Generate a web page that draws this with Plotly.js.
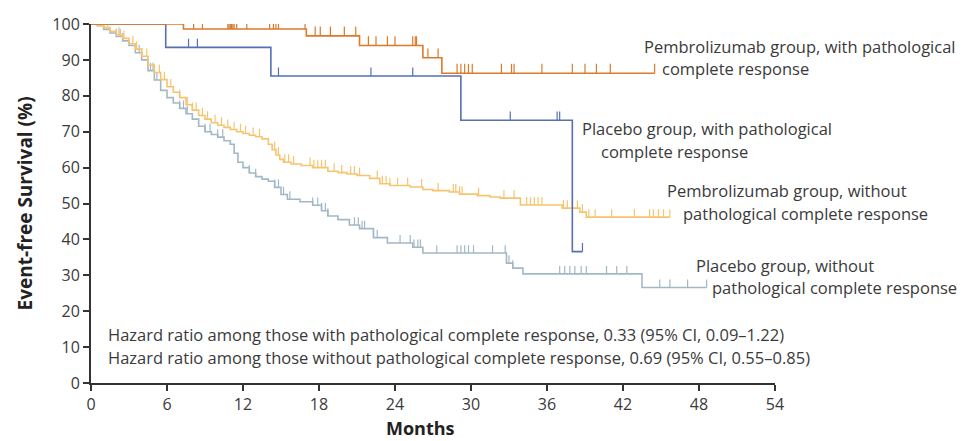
<!DOCTYPE html>
<html>
<head>
<meta charset="utf-8">
<script src="https://cdn.plot.ly/plotly-3.0.1.min.js"></script>
<style>
html,body{margin:0;padding:0;background:#fff;}
#chart{width:961px;height:441px;}
</style>
</head>
<body>
<div id="chart"></div>
<script>
// ---- Data (months, event-free survival %) ----
var pembroPcrTime = [0, 7.3, 17.0, 21.2, 26.2, 27.7, 44.5];
var pembroPcrSurv = [100, 98.6, 96.7, 94.0, 90.6, 86.3, 86.3];
var pembroPcrCensor = [4.8, 6.5, 6.9, 7.0, 7.2, 8.1, 8.8, 10.8, 10.9, 11.0, 11.1, 11.2, 11.3, 11.5, 12.3, 14.1, 14.4, 14.6, 14.8, 16.9, 17.7, 18.1, 18.9, 20.0, 20.9, 21.9, 22.5, 23.4, 24.0, 25.4, 25.6, 25.7, 26.6, 27.4, 28.9, 29.2, 29.5, 29.8, 30.1, 32.4, 33.2, 33.4, 35.6, 38.0, 39.0, 39.9, 41.0, 44.5];

var placeboPcrTime = [0, 5.9, 14.2, 29.2, 38.0, 38.8];
var placeboPcrSurv = [100, 93.5, 85.5, 73.2, 36.6, 36.6];
var placeboPcrCensor = [7.7, 8.4, 14.8, 22.1, 25.4, 33.1, 36.8, 37.0, 38.8];

var pembroNoTime = [0, 0.5, 1.0, 1.5, 2.0, 2.5, 3.0, 3.5, 4.0, 4.5, 5.0, 5.5, 6.0, 6.5, 7.0, 7.5, 8.0, 8.5, 9.0, 9.5, 10.0, 10.5, 11.0, 11.5, 12.0, 12.5, 13.0, 13.5, 14.0, 14.3, 14.6, 14.9, 15.2, 15.8, 16.6, 17.5, 18.7, 19.5, 20.2, 21.0, 22.0, 22.8, 23.6, 25.2, 26.2, 27.0, 28.3, 29.1, 30.5, 31.5, 32.3, 33.9, 37.2, 38.6, 39.1, 45.7];
var pembroNoSurv = [100, 99.6, 99.0, 98.0, 97.0, 96.0, 94.5, 93.0, 91.0, 88.5, 86.5, 84.5, 82.5, 81.0, 79.5, 77.5, 76.0, 74.5, 73.5, 72.5, 71.8, 71.2, 70.6, 70.0, 69.5, 69.0, 68.6, 68.0, 66.5, 65.0, 63.5, 62.3, 61.5, 61.0, 60.6, 60.0, 59.0, 58.6, 58.2, 57.8, 57.0, 55.5, 55.0, 54.6, 53.9, 53.6, 53.2, 52.6, 52.2, 51.8, 51.5, 49.6, 48.7, 47.6, 46.2, 46.2];
var pembroNoCensor = [1.3, 2.2, 2.6, 3.3, 3.6, 4.0, 4.4, 5.0, 5.4, 5.8, 6.3, 7.0, 7.6, 8.0, 8.3, 8.8, 9.2, 9.8, 10.3, 10.8, 11.3, 11.8, 12.2, 12.8, 13.3, 14.5, 14.8, 15.3, 15.6, 16.0, 17.3, 17.6, 17.9, 18.2, 18.5, 19.2, 19.8, 20.5, 20.8, 21.2, 22.6, 23.0, 23.3, 23.6, 24.2, 25.0, 26.1, 27.4, 28.6, 28.8, 29.1, 29.3, 30.6, 32.6, 33.4, 34.4, 34.7, 35.0, 35.3, 35.6, 37.3, 37.6, 38.0, 38.4, 38.8, 39.3, 39.8, 41.1, 42.9, 44.1, 44.4, 44.8, 45.2, 45.7];

var placeboNoTime = [0, 0.5, 1.0, 1.5, 2.0, 2.5, 3.0, 3.5, 4.0, 4.5, 5.0, 5.5, 6.0, 6.5, 7.0, 7.5, 8.0, 8.5, 9.0, 9.5, 10.0, 10.5, 11.0, 11.3, 11.6, 12.0, 12.5, 13.0, 13.5, 14.0, 14.5, 15.0, 15.5, 16.5, 17.5, 18.2, 18.7, 19.5, 20.4, 21.2, 22.3, 23.4, 25.4, 26.2, 32.8, 33.3, 34.1, 43.5, 48.6];
var placeboNoSurv = [100, 99.5, 98.5, 97.5, 96.5, 95.3, 94.0, 92.0, 90.0, 87.0, 84.4, 81.5, 79.5, 78.0, 76.5, 75.0, 73.5, 71.5, 70.0, 69.2, 68.5, 67.5, 66.5, 64.0, 61.5, 60.0, 58.5, 57.5, 56.8, 56.2, 54.5, 52.5, 51.2, 50.5, 49.5, 48.0, 46.5, 45.5, 44.0, 43.0, 40.5, 39.0, 37.8, 36.2, 33.4, 32.0, 30.4, 26.6, 26.6];
var placeboNoCensor = [2.0, 2.3, 2.5, 3.8, 4.7, 4.9, 5.2, 7.0, 7.3, 7.6, 9.0, 9.4, 10.0, 10.4, 12.5, 13.0, 14.5, 14.8, 15.2, 15.7, 17.5, 17.9, 18.2, 18.5, 18.7, 20.8, 21.1, 21.4, 21.6, 22.3, 22.6, 24.4, 25.2, 25.5, 25.8, 26.0, 27.3, 28.9, 29.2, 29.5, 29.8, 30.2, 31.7, 32.7, 33.0, 33.3, 37.0, 37.4, 37.8, 38.2, 38.7, 39.1, 40.7, 41.5, 42.3, 44.9, 45.7, 47.1, 48.6];

var xTicks = [0, 6, 12, 18, 24, 30, 36, 42, 48, 54];
var yTicks = [0, 10, 20, 30, 40, 50, 60, 70, 80, 90, 100];

var groupLabels = [
  ["Pembrolizumab group, with pathological", "complete response"],
  ["Placebo group, with pathological", "complete response"],
  ["Pembrolizumab group, without", "pathological complete response"],
  ["Placebo group, without", "pathological complete response"]
];
var hrLines = [
  "Hazard ratio among those with pathological complete response, 0.33 (95% CI, 0.09\u20131.22)",
  "Hazard ratio among those without pathological complete response, 0.69 (95% CI, 0.55\u20130.85)"
];

// ---- Styling ----
var colors = {
  pembroPcr: '#dc7a2b',
  placeboPcr: '#5670b2',
  pembroNo: '#f6c46e',
  placeboNo: '#a2b8c6'
};
var textColor = '#3a3a3a';
var fontFam = '"Open Sans", "Noto Sans", Arial, sans-serif';

function survAt(times, surv, t) {
  var s = surv[0];
  for (var i = 0; i < times.length; i++) { if (times[i] <= t) s = surv[i]; }
  return s;
}

function kmTraces(times, surv, censor, color, tickH) {
  var cy = censor.map(function (t) { return survAt(times, surv, t); });
  return [
    { x: times, y: surv, type: 'scatter', mode: 'lines',
      line: { shape: 'hv', color: color, width: 1.6 }, hoverinfo: 'skip', cliponaxis: false },
    { x: censor, y: cy, type: 'scatter', mode: 'markers',
      marker: { size: 1, color: 'rgba(0,0,0,0)' }, hoverinfo: 'skip', cliponaxis: false,
      error_y: { type: 'data', symmetric: false, array: censor.map(function(){return tickH;}),
                 arrayminus: censor.map(function(){return 0;}), width: 0, thickness: 1.2, color: color } }
  ];
}

var data = []
  .concat(kmTraces(placeboNoTime, placeboNoSurv, placeboNoCensor, colors.placeboNo, 2.2))
  .concat(kmTraces(pembroNoTime, pembroNoSurv, pembroNoCensor, colors.pembroNo, 2.2))
  .concat(kmTraces(placeboPcrTime, placeboPcrSurv, placeboPcrCensor, colors.placeboPcr, 2.4))
  .concat(kmTraces(pembroPcrTime, pembroPcrSurv, pembroPcrCensor, colors.pembroPcr, 2.6));

var labelPos = [
  [[43.5, 93.6], [44.9, 87.5]],
  [[38.6, 70.8], [40.1, 64.6]],
  [[45.3, 53.6], [46.6, 47.2]],
  [[47.6, 32.7], [48.9, 26.6]]
];
var annotations = [];
groupLabels.forEach(function (lines, i) {
  lines.forEach(function (txt, j) {
    annotations.push({ x: labelPos[i][j][0], y: labelPos[i][j][1], xref: 'x', yref: 'y',
      text: txt, showarrow: false, xanchor: 'left', yanchor: 'middle',
      font: { family: fontFam, size: 16.5, color: textColor } });
  });
});
hrLines.forEach(function (txt, j) {
  annotations.push({ x: 1.15, y: [13.4, 7.2][j], xref: 'x', yref: 'y', text: txt,
    showarrow: false, xanchor: 'left', yanchor: 'middle',
    font: { family: fontFam, size: 16.5, color: textColor } });
});
annotations.push({ x: -0.0965, y: 0.5, xref: 'paper', yref: 'paper', text: '<b>Event-free Survival (%)</b>',
  textangle: -90, showarrow: false, xanchor: 'center', yanchor: 'middle',
  font: { family: fontFam, size: 19, color: '#222' } });
annotations.push({ x: 0.481, y: -0.1616, xref: 'paper', yref: 'paper', text: '<b>Months</b>',
  showarrow: false, xanchor: 'center', yanchor: 'bottom', borderpad: 0,
  font: { family: fontFam, size: 18, color: '#222' } });

var layout = {
  width: 961, height: 441,
  margin: { l: 91, r: 186, t: 24, b: 58, pad: 0 },
  paper_bgcolor: '#fff', plot_bgcolor: '#fff',
  showlegend: false,
  xaxis: {
    range: [0, 54], tickvals: xTicks, ticktext: xTicks.map(String),
    showgrid: false, zeroline: false, showline: true, linecolor: '#333', linewidth: 2,
    ticks: 'outside', ticklen: 6, tickwidth: 2, tickcolor: '#333',
    tickfont: { family: fontFam, size: 16, color: textColor }, fixedrange: true
  },
  yaxis: {
    range: [0, 100], tickvals: yTicks, ticktext: yTicks.map(String),
    showgrid: false, zeroline: false, showline: true, linecolor: '#333', linewidth: 2,
    ticks: 'outside', ticklen: 6, tickwidth: 2, tickcolor: '#333',
    tickfont: { family: fontFam, size: 16, color: textColor }, fixedrange: true
  },
  annotations: annotations
};

Plotly.newPlot('chart', data, layout, { displayModeBar: false, staticPlot: true });
</script>
</body>
</html>
